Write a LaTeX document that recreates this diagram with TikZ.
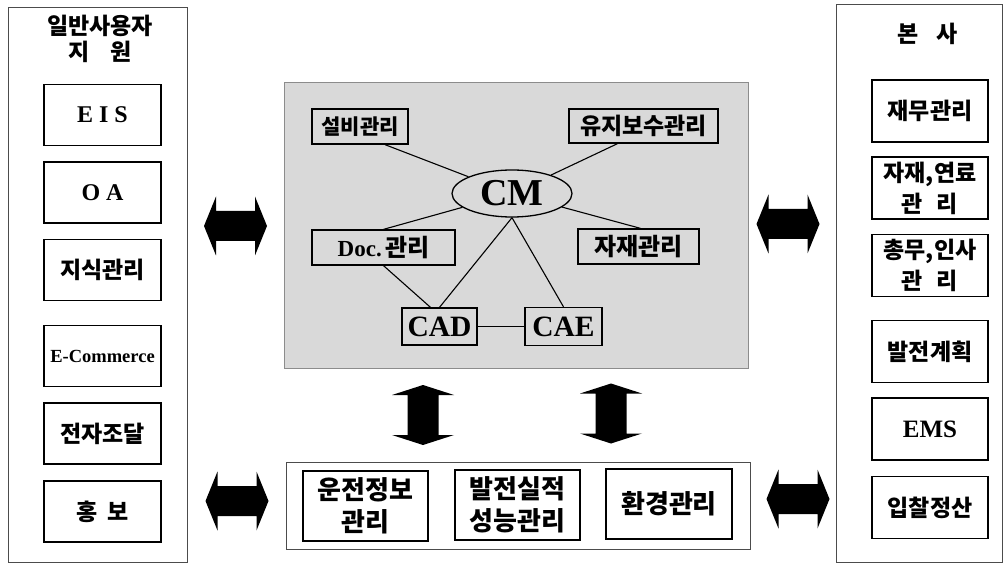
\documentclass[tikz,border=0pt]{standalone}
\usepackage{fontspec}
\setmainfont{Liberation Serif}
\newfontfamily\kr{Noto Sans CJK KR}
\usetikzlibrary{shapes.geometric}

\tikzset{
  panel/.style={draw=black!70, line width=0.8pt, inner sep=0pt},
  sidebox/.style={draw=black, line width=1.3pt, fill=white, minimum width=117pt,
    minimum height=61pt, inner sep=0pt, align=center},
  inbox/.style={draw=black, line width=1.3pt, inner sep=0pt, align=center},
  kr/.style={font=\kr\bfseries\fontsize{#1}{#1}\selectfont},
  kr/.default=23,
  lat/.style={font=\bfseries\fontsize{#1}{#1}\selectfont},
  lat/.default=24,
  link/.style={draw=black, line width=1.1pt},
  harrow/.pic={\fill[black] (-31.5,0) -- (-19.5,-29.5) -- (-19.5,-15) -- (19.5,-15)
    -- (19.5,-29.5) -- (31.5,0) -- (19.5,29.5) -- (19.5,15) -- (-19.5,15)
    -- (-19.5,29.5) -- cycle;},
  varrow/.pic={\fill[black] (0,-30) -- (31,-20) -- (15.5,-20) -- (15.5,20)
    -- (31,20) -- (0,30) -- (-31,20) -- (-15.5,20) -- (-15.5,-20)
    -- (-31,-20) -- cycle;}
}

\begin{document}
\begin{tikzpicture}[x=1pt, y=-1pt]
\useasboundingbox (0,0) rectangle (1007,564);

% outer panels
\node[panel, minimum width=179pt, minimum height=555pt] (userpanel) at (97.5,284.5) {};
\node[panel, minimum width=166pt, minimum height=558pt] (hqpanel) at (919,283) {};
\node[panel, draw=black!45, fill=black!15, minimum width=464pt, minimum height=286pt] (cmpanel) at (516,225) {};
\node[panel, minimum width=464pt, minimum height=87pt] (oppanel) at (518,505.5) {};

% user support column
\node[align=center, font=\kr\bfseries\fontsize{23}{26}\selectfont] (usertitle) at (100,39) {일반사용자\\지\hspace{0.9em}원};
\node[sidebox, lat] (eis) at (102.5,115) {E I S};
\node[sidebox, lat] (oa) at (102.5,192.5) {O A};
\node[sidebox, kr] (know) at (102.5,270) {지식관리};
\node[sidebox, lat=18.5] (ecom) at (102.5,356) {E-Commerce};
\node[sidebox, kr] (eproc) at (102.5,433.5) {전자조달};
\node[sidebox, kr] (pr) at (102.5,511.5) {홍\hspace{0.45em}보};

% head office column
\node[kr] (hqtitle) at (927.5,34) {본\hspace{0.8em}사};
\tikzset{hqbox/.style={sidebox, minimum width=116pt, minimum height=62pt}}
\node[hqbox, kr] (fin) at (930,111) {재무관리};
\node[hqbox, font=\kr\bfseries\fontsize{23}{31}\selectfont] (mat) at (930,188) {자재,연료\\관\hspace{0.6em}리};
\node[hqbox, font=\kr\bfseries\fontsize{23}{31}\selectfont] (gen) at (930,265.5) {총무,인사\\관\hspace{0.6em}리};
\node[hqbox, kr] (plan) at (930,351.5) {발전계획};
\node[hqbox, lat=25] (ems) at (930,429) {EMS};
\node[hqbox, kr] (bid) at (930,507.5) {입찰정산};

% CM cluster
\node[inbox, kr=21, minimum width=96pt, minimum height=35pt] (equip) at (360,126.5) {설비관리};
\node[inbox, kr=23, minimum width=149pt, minimum height=34pt] (maint) at (643.5,126) {유지보수관리};
\node[draw=black, line width=1.3pt, ellipse, inner sep=0pt, minimum width=120pt,
  minimum height=47pt, lat=38] (cm) at (512,193.5) {CM};
\node[inbox, minimum width=143pt, minimum height=35pt] (doc) at (383.5,247.5)
  {{\bfseries\fontsize{23}{24}\selectfont Doc.} {\kr\bfseries\fontsize{24}{26}\selectfont 관리}};
\node[inbox, kr=24, minimum width=121pt, minimum height=35pt] (stock) at (638.5,246.5) {자재관리};
\node[inbox, lat=29.5, minimum width=75pt, minimum height=37pt] (cad) at (439.5,326.5) {CAD};
\node[inbox, lat=29.5, minimum width=77pt, minimum height=38pt] (cae) at (563.5,326.5) {CAE};

\draw[link] ([xshift=25pt]equip.south) -- (cm);
\draw[link] ([xshift=-26pt]maint.south) -- (cm);
\draw[link] (doc.north) -- (cm);
\draw[link] ([xshift=2pt]stock.north) -- (cm);
\draw[link] (doc.south) -- ([xshift=-9pt]cad.north);
\draw[link] (cm.south) -- (cad.north);
\draw[link] (cm.south) -- (cae.north);
\draw[link] (cad.east) -- (cae.west);

% operations row
\node[inbox, font=\kr\bfseries\fontsize{26}{32}\selectfont, minimum width=125pt, minimum height=70pt] (opinfo) at (365.5,506) {운전정보\\관리};
\node[inbox, font=\kr\bfseries\fontsize{26}{32}\selectfont, minimum width=125pt, minimum height=70pt] (perf) at (517.5,505) {발전실적\\성능관리};
\node[inbox, kr=26, minimum width=126pt, minimum height=70pt] (env) at (669,504) {환경관리};

% block arrows between the areas
\pic at (235.5,226) {harrow};
\pic at (788,224) {harrow};
\pic at (237,501) {harrow};
\pic at (798,499) {harrow};
\pic at (423,415) {varrow};
\pic at (611,413.5) {varrow};
\end{tikzpicture}
\end{document}
